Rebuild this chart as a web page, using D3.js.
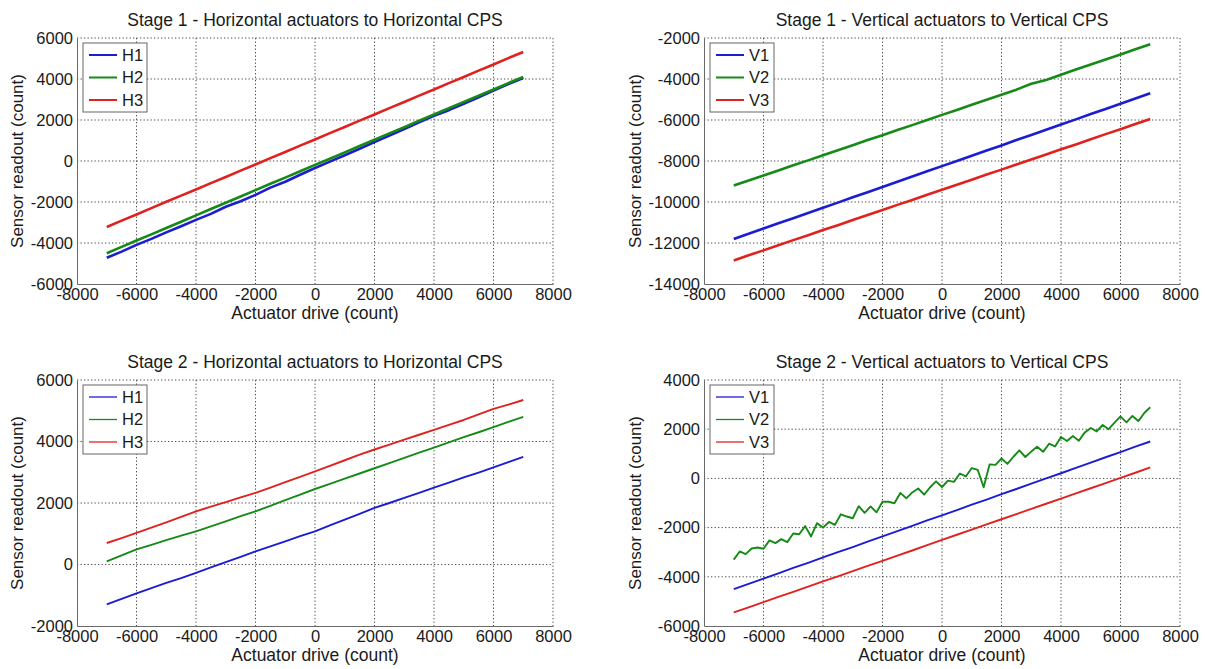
<!DOCTYPE html>
<html>
<head>
<meta charset="utf-8">
<script src="https://cdn.jsdelivr.net/npm/d3@7"></script>
<style>
  body { margin: 0; background: #fff; }
  svg text { font-family: "Liberation Sans", Arial, sans-serif; fill: #1a1a1a; }
</style>
</head>
<body>
<svg id="chart" width="1206" height="669"></svg>
<script>
// actuator drive samples (count)
var drive = [-7000,-6500,-6000,-5500,-5000,-4500,-4000,-3500,-3000,-2500,-2000,-1500,-1000,-500,0,
             500,1000,1500,2000,2500,3000,3500,4000,4500,5000,5500,6000,6500,7000];
var driveFine = [-7000,-6800,-6600,-6400,-6200,-6000,-5800,-5600,-5400,-5200,-5000,-4800,-4600,-4400,-4200,
                 -4000,-3800,-3600,-3400,-3200,-3000,-2800,-2600,-2400,-2200,-2000,-1800,-1600,-1400,-1200,
                 -1000,-800,-600,-400,-200,0,200,400,600,800,1000,1200,1400,1600,1800,2000,2200,2400,2600,
                 2800,3000,3200,3400,3600,3800,4000,4200,4400,4600,4800,5000,5200,5400,5600,5800,6000,6200,
                 6400,6600,6800,7000];

var driveTicks = [-8000,-6000,-4000,-2000,0,2000,4000,6000,8000];
var s1HTicks = [-6000,-4000,-2000,0,2000,4000,6000];
var s1VTicks = [-14000,-12000,-10000,-8000,-6000,-4000,-2000];
var s2HTicks = [-2000,0,2000,4000,6000];
var s2VTicks = [-6000,-4000,-2000,0,2000,4000];

// sensor readouts (count)
var s1H1 = [-4720,-4420,-4090,-3800,-3480,-3180,-2870,-2580,-2230,-1960,-1650,-1300,-1010,-670,-340,
            -30,280,600,920,1240,1560,1890,2210,2480,2790,3110,3430,3750,4050];
var s1H2 = [-4500,-4190,-3880,-3580,-3270,-2960,-2650,-2340,-2040,-1730,-1420,-1110,-810,-500,-190,
            110,420,730,1040,1350,1650,1960,2270,2570,2880,3180,3490,3800,4100];
var s1H3 = [-3220,-2910,-2610,-2300,-1990,-1690,-1390,-1080,-780,-470,-170,140,440,750,1050,
            1360,1660,1970,2270,2580,2880,3190,3490,3800,4100,4410,4710,5020,5320];

var s1V1 = [-11800,-11550,-11290,-11040,-10790,-10540,-10280,-10030,-9770,-9520,-9270,-9010,-8760,-8500,-8250,
            -8000,-7740,-7490,-7240,-6980,-6730,-6480,-6220,-5970,-5710,-5460,-5210,-4950,-4700];
var s1V2 = [-9200,-8950,-8710,-8460,-8210,-7970,-7720,-7480,-7230,-6980,-6740,-6490,-6250,-6000,-5750,
            -5510,-5260,-5010,-4770,-4520,-4230,-4050,-3790,-3540,-3290,-3050,-2800,-2550,-2300];
var s1V3 = [-12850,-12600,-12360,-12110,-11860,-11620,-11370,-11130,-10880,-10630,-10390,-10140,-9900,-9650,-9400,
            -9160,-8910,-8660,-8420,-8170,-7930,-7680,-7430,-7190,-6940,-6690,-6450,-6200,-5950];

var s2H1 = [-1300,-1120,-940,-770,-600,-440,-270,-90,80,250,430,590,750,920,1080,
            1270,1460,1650,1840,2000,2170,2330,2500,2660,2830,2990,3160,3330,3500];
var s2H2 = [100,300,490,640,790,940,1080,1240,1400,1570,1730,1910,2090,2270,2455,
            2620,2790,2960,3130,3300,3470,3640,3800,3970,4140,4300,4470,4640,4800];
var s2H3 = [700,860,1030,1200,1370,1550,1730,1880,2030,2180,2330,2500,2680,2850,3025,
            3210,3390,3570,3740,3900,4060,4220,4380,4540,4700,4880,5060,5200,5350];

var s2V1 = [-4500,-4290,-4070,-3860,-3640,-3430,-3210,-3000,-2790,-2570,-2360,-2140,-1930,-1710,-1500,
            -1290,-1070,-860,-640,-430,-210,0,210,430,640,860,1070,1290,1500];
var s2V2 = [-3300,-2970,-3080,-2850,-2810,-2860,-2520,-2630,-2470,-2590,-2240,-2270,-1940,-2360,-1820,
            -2000,-1770,-1890,-1460,-1550,-1620,-1130,-1400,-1140,-1380,-950,-950,-1010,-590,-810,
            -570,-410,-660,-360,-120,-350,-90,-140,200,80,420,350,-360,570,550,810,590,880,1140,
            870,1090,1290,1080,1410,1300,1680,1520,1720,1530,1870,2050,1910,2170,2000,2270,2520,2280,
            2540,2330,2660,2890];
var s2V3 = [-5450,-5240,-5030,-4820,-4610,-4400,-4190,-3980,-3770,-3560,-3350,-3140,-2930,-2710,-2500,
            -2290,-2080,-1870,-1660,-1450,-1240,-1030,-820,-610,-400,-190,20,230,450];

var blue = "#1c1cd2", green = "#168a16", red = "#e0221f";

var panels = [
  { left: 77, top: 38, title: "Stage 1 - Horizontal actuators to Horizontal CPS", yTicks: s1HTicks, lw: 2.6,
    series: [{ name: "H1", x: drive, y: s1H1, c: blue }, { name: "H2", x: drive, y: s1H2, c: green }, { name: "H3", x: drive, y: s1H3, c: red }] },
  { left: 704, top: 38, title: "Stage 1 - Vertical actuators to Vertical CPS", yTicks: s1VTicks, lw: 2.6,
    series: [{ name: "V1", x: drive, y: s1V1, c: blue }, { name: "V2", x: drive, y: s1V2, c: green }, { name: "V3", x: drive, y: s1V3, c: red }] },
  { left: 77, top: 380, title: "Stage 2 - Horizontal actuators to Horizontal CPS", yTicks: s2HTicks, lw: 1.9,
    series: [{ name: "H1", x: drive, y: s2H1, c: blue }, { name: "H2", x: drive, y: s2H2, c: green }, { name: "H3", x: drive, y: s2H3, c: red }] },
  { left: 704, top: 380, title: "Stage 2 - Vertical actuators to Vertical CPS", yTicks: s2VTicks, lw: 1.9,
    series: [{ name: "V1", x: drive, y: s2V1, c: blue }, { name: "V2", x: driveFine, y: s2V2, c: green }, { name: "V3", x: drive, y: s2V3, c: red }] }
];

var W = 476, H = 246;
var svg = d3.select("#chart");
var fmt = function(d) { return String(d); };

panels.forEach(function(p) {
  var g = svg.append("g").attr("transform", "translate(" + p.left + "," + p.top + ")");
  var x = d3.scaleLinear().domain([-8000, 8000]).range([0, W]);
  var y = d3.scaleLinear().domain(d3.extent(p.yTicks)).range([H, 0]);

  // dotted grid
  g.append("g").selectAll("line").data(driveTicks.slice(1)).enter().append("line")
    .attr("x1", function(d) { return x(d); }).attr("x2", function(d) { return x(d); })
    .attr("y1", 0).attr("y2", H)
    .attr("stroke", "#4a4a4a").attr("stroke-dasharray", "1.3,2.2");
  g.append("g").selectAll("line").data(p.yTicks.slice(1)).enter().append("line")
    .attr("y1", function(d) { return y(d); }).attr("y2", function(d) { return y(d); })
    .attr("x1", 0).attr("x2", W)
    .attr("stroke", "#4a4a4a").attr("stroke-dasharray", "1.3,2.2");

  // axes
  var xa = g.append("g").attr("transform", "translate(0," + H + ")")
    .call(d3.axisBottom(x).tickValues(driveTicks).tickSize(0).tickPadding(4).tickFormat(fmt));
  var ya = g.append("g")
    .call(d3.axisLeft(y).tickValues(p.yTicks).tickSize(0).tickPadding(4).tickFormat(fmt));
  [xa, ya].forEach(function(a) {
    a.select(".domain").attr("stroke", "#6a6a6a");
    a.selectAll("text").style("font-size", "16.5px").attr("fill", "#1a1a1a");
  });
  xa.selectAll("text").attr("dy", "0.75em");

  // lines
  var line = d3.line()
    .x(function(d) { return x(d[0]); })
    .y(function(d) { return y(d[1]); });
  p.series.forEach(function(s) {
    g.append("path")
      .datum(d3.zip(s.x, s.y))
      .attr("fill", "none")
      .attr("stroke", s.c)
      .attr("stroke-width", p.lw)
      .attr("stroke-linejoin", "round")
      .attr("d", line);
  });

  // titles and labels
  g.append("text").attr("x", W / 2).attr("y", -12).attr("text-anchor", "middle")
    .style("font-size", "17.5px").text(p.title);
  g.append("text").attr("x", W / 2).attr("y", H + 35).attr("text-anchor", "middle")
    .style("font-size", "17.5px").text("Actuator drive (count)");
  g.append("text")
    .attr("transform", "translate(" + (p.left < 300 ? -54 : -63) + "," + (H / 2) + ") rotate(-90)")
    .attr("text-anchor", "middle").style("font-size", "17px").text("Sensor readout (count)");

  // legend
  var lg = g.append("g").attr("transform", "translate(6,5)");
  lg.append("rect").attr("width", 64).attr("height", 69)
    .attr("fill", "#fff").attr("stroke", "#666");
  p.series.forEach(function(s, i) {
    var yy = 12 + i * 22.5;
    lg.append("line").attr("x1", 6).attr("x2", 34).attr("y1", yy).attr("y2", yy)
      .attr("stroke", s.c).attr("stroke-width", p.lw - 0.6);
    lg.append("text").attr("x", 39).attr("y", yy).attr("dy", "0.36em")
      .style("font-size", "16.5px").text(s.name);
  });
});
</script>
</body>
</html>
